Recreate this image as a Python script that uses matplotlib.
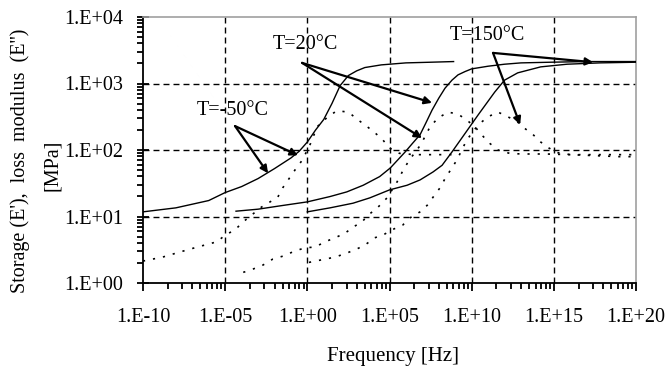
import numpy as np
import matplotlib
matplotlib.use("Agg")
import matplotlib.pyplot as plt
from matplotlib.ticker import NullFormatter

plt.rcParams['font.family'] = ['Liberation Serif', 'DejaVu Serif']

# ---- data (log10 of frequency [Hz], log10 of modulus [MPa]) ----
s_m50_logf = [-10, -8, -6, -5, -4, -3, -2, -1, -0.5, 0, 0.5, 1, 1.5, 2, 2.5, 3, 3.5, 4.5, 6, 7.5, 8.9]
s_m50_logE = [1.07, 1.13, 1.24, 1.36, 1.45, 1.57, 1.72, 1.88, 1.98, 2.12, 2.3, 2.46, 2.7, 2.97, 3.12, 3.19, 3.24, 3.28, 3.31, 3.32, 3.33]

l_m50_logf = [-10, -8.8, -7.7, -6.7, -5.5, -5, -4.4, -3.9, -2.8, -1.8, -1.5, -0.75, -0.3, 0.2, 0.6, 1.25, 1.8, 2.5, 3.1, 3.6, 4.2, 4.6, 5.0, 5.6, 6.5, 7.5, 8.9]
l_m50_logE = [0.33, 0.39, 0.47, 0.54, 0.62, 0.72, 0.8, 0.92, 1.14, 1.29, 1.43, 1.7, 1.85, 2.1, 2.35, 2.5, 2.59, 2.57, 2.45, 2.36, 2.24, 2.15, 2.03, 1.95, 1.93, 1.93, 1.93]

s_20_logf = [-4.34, -3, -1.66, 0, 1.38, 2.4, 3.4, 4.4, 5.05, 5.5, 5.95, 6.4, 6.86, 7.2, 7.59, 8.0, 8.38, 8.8, 9.17, 9.6, 10.0, 11.0, 12.0, 13, 14.8, 17, 20]
s_20_logE = [1.08, 1.11, 1.16, 1.22, 1.30, 1.37, 1.47, 1.6, 1.73, 1.85, 1.97, 2.1, 2.23, 2.4, 2.6, 2.78, 2.93, 3.05, 3.13, 3.18, 3.22, 3.26, 3.29, 3.31, 3.32, 3.33, 3.33]

l_20_logf = [-3.9, -3.3, -2.7, -2.1, -1.4, -0.87, -0.14, 0.47, 1.08, 1.69, 2.3, 2.78, 3.33, 3.7, 4.3, 4.85, 5.46, 5.9, 6.3, 6.9, 7.47, 7.95, 8.56, 9.17, 9.7, 10.2, 10.6, 11.1, 11.6, 12.3, 13, 14.5, 16, 18, 20]
l_20_logE = [0.16, 0.21, 0.27, 0.36, 0.41, 0.47, 0.53, 0.54, 0.62, 0.68, 0.75, 0.84, 0.92, 1.02, 1.14, 1.28, 1.52, 1.73, 1.88, 2.08, 2.35, 2.48, 2.57, 2.54, 2.45, 2.35, 2.23, 2.1, 2.0, 1.95, 1.94, 1.94, 1.93, 1.93, 1.93]

s_150_logf = [0, 1.38, 2.78, 3.8, 5.0, 6.07, 6.86, 7.65, 8.2, 8.8, 9.4, 10.4, 11.4, 12.0, 12.8, 14.2, 15.8, 17.8, 20]
s_150_logE = [1.07, 1.13, 1.2, 1.28, 1.4, 1.47, 1.55, 1.67, 1.77, 1.97, 2.18, 2.53, 2.87, 3.05, 3.16, 3.25, 3.29, 3.31, 3.32]

l_150_logf = [0.1, 1.1, 1.7, 2.4, 3.0, 3.5, 4.1, 4.6, 5.15, 5.8, 6.25, 6.86, 7.3, 7.65, 8.1, 8.4, 8.8, 9.1, 9.7, 10.4, 11.0, 11.6, 12.2, 12.8, 13.2, 13.7, 14.2, 14.7, 15.2, 16, 17, 18, 19, 20]
l_150_logE = [0.31, 0.36, 0.39, 0.45, 0.51, 0.57, 0.68, 0.72, 0.8, 0.87, 0.98, 1.07, 1.17, 1.29, 1.44, 1.58, 1.73, 1.85, 2.15, 2.38, 2.5, 2.57, 2.5, 2.42, 2.33, 2.24, 2.12, 2.03, 1.96, 1.93, 1.92, 1.91, 1.9, 1.9]

x_tick_exps = [-10, -5, 0, 5, 10, 15, 20]
x_tick_labels = ["1.E-10", "1.E-05", "1.E+00", "1.E+05", "1.E+10", "1.E+15", "1.E+20"]
y_tick_exps = [0, 1, 2, 3, 4]
y_tick_labels = ["1.E+00", "1.E+01", "1.E+02", "1.E+03", "1.E+04"]

# annotations: label, text position, arrow start, arrow tips (log10 f, log10 E)
labels = ["T=-50°C", "T=20°C", "T=150°C"]
label_pos = [(-4.52, 2.60), (-0.14, 3.58), (10.94, 3.72)]
arrow_start = [(-4.4, 2.36), (-0.32, 3.31), (11.3, 3.46)]
arrow_tips = [[(-0.57, 1.92), (-2.39, 1.65)],
              [(7.59, 2.71), (6.98, 2.18)],
              [(17.39, 3.32), (12.95, 2.38)]]

# ---- figure ----
fig = plt.figure(figsize=(6.68, 3.72), dpi=100)
ax = fig.add_axes([143/668, 1-283/372, (636-143)/668, (283-17)/372])
ax.set_xscale('log')
ax.set_yscale('log')
ax.set_xlim(10.0**x_tick_exps[0], 10.0**x_tick_exps[-1])
ax.set_ylim(10.0**y_tick_exps[0], 10.0**y_tick_exps[-1])

def P(a):
    return 10.0**np.asarray(a, dtype=float)

# grid (interior only)
grid_kw = dict(color='black', lw=1.0, linestyle=(0, (4.3, 2.9)), zorder=1)
for e in x_tick_exps[1:-1]:
    ax.axvline(10.0**e, **grid_kw)
for e in y_tick_exps[1:-1]:
    ax.axhline(10.0**e, **grid_kw)

solid_kw = dict(color='black', lw=1.0, zorder=3)
dot_kw = dict(color='black', lw=1.2, linestyle=(0, (1.3, 4.8)), zorder=3)
ax.plot(P(s_m50_logf), P(s_m50_logE), **solid_kw)
ax.plot(P(s_20_logf), P(s_20_logE), **solid_kw)
ax.plot(P(s_150_logf), P(s_150_logE), **solid_kw)
ax.plot(P(l_m50_logf), P(l_m50_logE), **dot_kw)
ax.plot(P(l_20_logf), P(l_20_logE), **dot_kw)
ax.plot(P(l_150_logf), P(l_150_logE), **dot_kw)

for lab, tp, st, tips in zip(labels, label_pos, arrow_start, arrow_tips):
    ax.text(10**tp[0], 10**tp[1], lab, ha='center', va='center', fontsize=14.5, zorder=5)
    for tip in tips:
        ax.annotate('', xy=(10**tip[0], 10**tip[1]), xytext=(10**st[0], 10**st[1]),
                    arrowprops=dict(arrowstyle='-|>', lw=1.6, color='black',
                                    mutation_scale=11, shrinkA=0, shrinkB=0),
                    zorder=5)

# ticks
minor_x = [m + 5*np.log10(k) for m in x_tick_exps[:-1] for k in range(2, 10)]
minor_y = [m + np.log10(k) for m in y_tick_exps[:-1] for k in range(2, 10)]
ax.set_xticks(P(x_tick_exps))
ax.set_xticklabels(x_tick_labels)
ax.set_xticks(P(minor_x), minor=True)
ax.set_yticks(P(y_tick_exps))
ax.set_yticklabels(y_tick_labels)
ax.set_yticks(P(minor_y), minor=True)
ax.xaxis.set_minor_formatter(NullFormatter())
ax.yaxis.set_minor_formatter(NullFormatter())

ax.tick_params(axis='x', which='major', direction='out', length=6, width=1.3, pad=12,
               labelsize=14.5, bottom=True, color='black', labelcolor='black')
ax.tick_params(axis='x', which='minor', direction='out', length=4.5, width=1.3,
               bottom=True, color='black')
ax.tick_params(axis='y', which='major', direction='inout', length=9, width=1.3, pad=10,
               labelsize=14.5, left=True, color='black', labelcolor='black')
ax.tick_params(axis='y', which='minor', direction='out', length=4, width=1.3,
               left=True, color='black')

for s in ['left', 'bottom']:
    ax.spines[s].set_color('black')
    ax.spines[s].set_linewidth(1.3)
for s in ['top', 'right']:
    ax.spines[s].set_color('#a0a0a0')
    ax.spines[s].set_linewidth(1.2)

fig.text(393/668, 1-357/372, "Frequency [Hz]", ha='center', va='center', fontsize=15)
fig.text(20/668, 1-161/372, "Storage (E'),  loss  modulus  (E'')", ha='center', va='center',
         rotation=90, fontsize=14.5)
fig.text(52/668, 1-165/372, "[MPa]", ha='center', va='center', rotation=90, fontsize=14.5)

fig.savefig("out.png", dpi=100)
